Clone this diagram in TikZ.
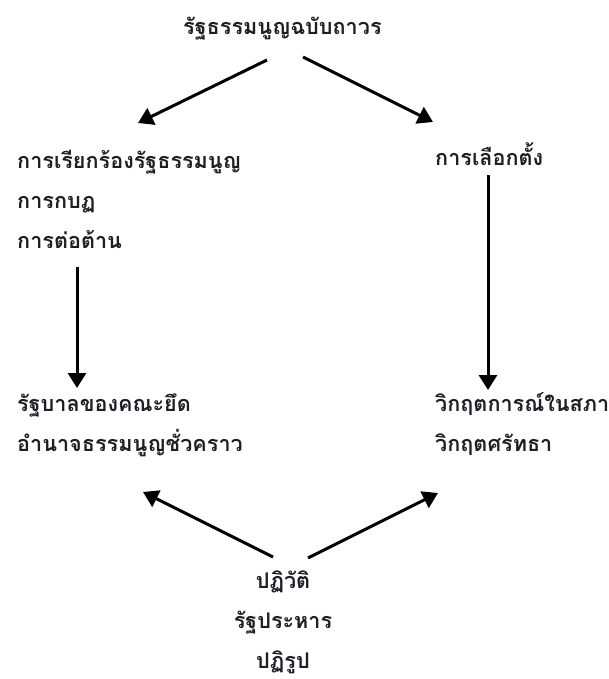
\documentclass[tikz,border=0pt]{standalone}
\usepackage{fontspec}
\newfontfamily\thaifont[Script=Thai]{Loma}
\usetikzlibrary{arrows.meta}
\definecolor{ink}{HTML}{1E1E24}
\tikzset{
  txt/.style={font=\thaifont\bfseries\fontsize{21.6}{40}\selectfont, text=ink, inner sep=0pt, align=left},
  arr/.style={line width=3pt, draw=black, -{Triangle[length=15pt,width=18pt]}}
}
\begin{document}
\begin{tikzpicture}[x=1pt,y=-1pt]
\useasboundingbox (0,0) rectangle (608,679);
\node[txt, anchor=base west] (top) at (183,35) {รัฐธรรมนูญฉบับถาวร};
\node[txt, anchor=base west] (lu) at (17,248) {การเรียกร้องรัฐธรรมนูญ\\การกบฏ\\การต่อต้าน};
\node[txt, anchor=base west] (ru) at (435,166) {การเลือกตั้ง};
\node[txt, anchor=base west] (ll) at (17,451) {รัฐบาลของคณะยึด\\อำนาจธรรมนูญชั่วคราว};
\node[txt, anchor=base west] (rl) at (435,451) {วิกฤตการณ์ในสภา\\วิกฤตศรัทธา};
\node[txt, anchor=base, align=center] (bot) at (283,668) {ปฏิวัติ\\รัฐประหาร\\ปฏิรูป};
\coordinate (a1s) at (267,60); \coordinate (a1e) at (138,123);
\coordinate (a2s) at (303,57); \coordinate (a2e) at (433,122);
\coordinate (a3s) at (77,267); \coordinate (a3e) at (77,388);
\coordinate (a4s) at (488,175); \coordinate (a4e) at (488,390);
\coordinate (a5s) at (273,557); \coordinate (a5e) at (143,492);
\coordinate (a6s) at (308,558); \coordinate (a6e) at (438,493);
\draw[arr] (a1s) -- (a1e);
\draw[arr] (a2s) -- (a2e);
\draw[arr] (a3s) -- (a3e);
\draw[arr] (a4s) -- (a4e);
\draw[arr] (a5s) -- (a5e);
\draw[arr] (a6s) -- (a6e);
\end{tikzpicture}
\end{document}
